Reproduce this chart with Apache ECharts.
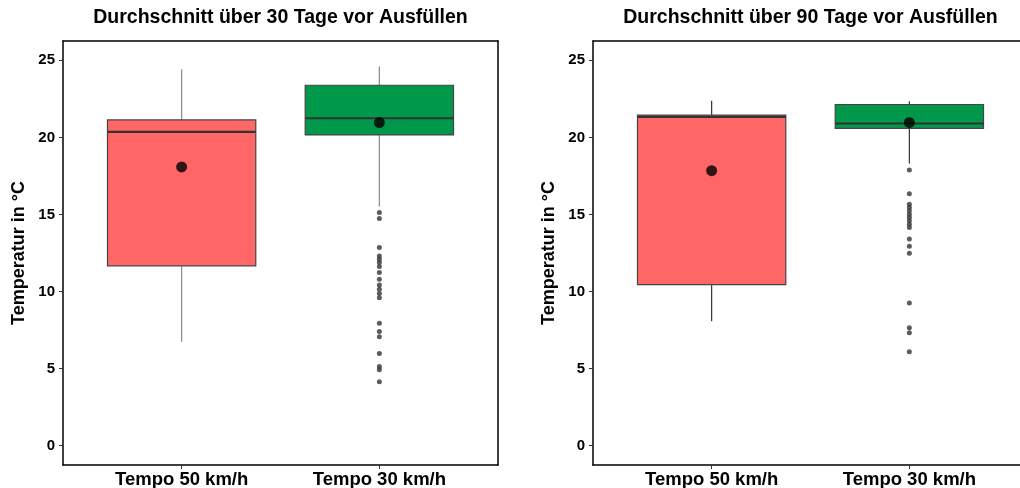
<!DOCTYPE html>
<html>
<head>
<meta charset="utf-8">
<script src="https://cdn.jsdelivr.net/npm/echarts@6/dist/echarts.min.js"></script>
<style>
  html, body { margin: 0; padding: 0; background: #fff; overflow: hidden; width: 1020px; height: 488px; }
  #chart { width: 1060px; height: 488px; }
</style>
</head>
<body>
<div id="chart"></div>
<script>
// Groups on the x axis
const categories = ['Tempo 50 km/h', 'Tempo 30 km/h'];
const yTicks = [0, 5, 10, 15, 20, 25];

// Box statistics per group: [lower whisker, Q1, median, Q3, upper whisker]
const stats30 = [
  [6.74, 11.67, 20.35, 21.13, 24.41],
  [15.51, 20.16, 21.24, 23.38, 24.6]
];
const stats90 = [
  [8.08, 10.45, 21.33, 21.44, 22.37],
  [18.31, 20.58, 20.9, 22.13, 22.35]
];

// Group means
const means30 = [18.08, 20.96];
const means90 = [17.84, 20.97];

// Outliers of the "Tempo 30 km/h" group
const outliers30 = [15.12, 14.73, 12.85, 12.31, 12.1, 11.88, 11.62, 11.23, 10.8, 10.43,
  10.15, 9.87, 9.59, 7.95, 7.41, 7.06, 5.98, 5.14, 4.93, 4.15];
const outliers90 = [17.89, 16.34, 15.66, 15.45, 15.24, 15.02, 14.8, 14.59, 14.37, 14.16,
  13.4, 12.93, 12.48, 9.26, 7.65, 7.32, 6.1];

const titles = ['Durchschnitt über 30 Tage vor Ausfüllen', 'Durchschnitt über 90 Tage vor Ausfüllen'];
const fills = ['#FF6666', '#00994C'];
const BOX_WIDTH = 0.75;
const FONT = 'Liberation Sans, Arial, sans-serif';
const X_RANGE = { min: 0.4, max: 2.6 };
const Y_RANGE = { min: -1.25, max: 26.25 };

function boxRenderer(whiskerColor) {
  return function (params, api) {
    const x = api.value(0);
    const lo = api.coord([x, api.value(1)]);
    const q1 = api.coord([x, api.value(2)]);
    const md = api.coord([x, api.value(3)]);
    const q3 = api.coord([x, api.value(4)]);
    const hi = api.coord([x, api.value(5)]);
    const half = api.size([BOX_WIDTH, 0])[0] / 2;
    const cx = lo[0];
    return {
      type: 'group',
      children: [
        { type: 'line', shape: { x1: cx, y1: hi[1], x2: cx, y2: q3[1] },
          style: { stroke: whiskerColor, lineWidth: 1.2 } },
        { type: 'line', shape: { x1: cx, y1: q1[1], x2: cx, y2: lo[1] },
          style: { stroke: whiskerColor, lineWidth: 1.2 } },
        { type: 'rect', shape: { x: cx - half, y: q3[1], width: half * 2, height: q1[1] - q3[1] },
          style: { fill: fills[params.dataIndex], stroke: '#444', lineWidth: 1.2 } },
        { type: 'line', shape: { x1: cx - half, y1: md[1], x2: cx + half, y2: md[1] },
          style: { stroke: '#333', lineWidth: 2.2 } }
      ]
    };
  };
}

// The second panel runs on past the right edge of the page (the canvas is wider than the page)
const panels = [
  { stats: stats30, means: means30, outliers: outliers30, left: 63, whisker: '#8a8a8a' },
  { stats: stats90, means: means90, outliers: outliers90, left: 593, whisker: '#333' }
];

const frameLine = { show: true, onZero: false, lineStyle: { color: '#000', width: 1.5 } };

// Main axes (bottom / left) with labels, plus bare top / right axes forming the panel frame
const xAxes = [];
const yAxes = [];
panels.forEach((p, i) => {
  xAxes.push({
    type: 'value', gridIndex: i, position: 'bottom', ...X_RANGE,
    axisLine: frameLine,
    axisTick: { show: true, length: 4, lineStyle: { color: '#333' }, customValues: [1, 2] },
    axisLabel: {
      customValues: [1, 2], margin: 5,
      formatter: v => categories[Math.round(v) - 1] || '',
      fontFamily: FONT, fontWeight: 'bold', fontSize: 18.5, color: '#000'
    },
    splitLine: { show: false }
  });
  xAxes.push({
    type: 'value', gridIndex: i, position: 'top', ...X_RANGE,
    axisLine: frameLine, axisTick: { show: false }, axisLabel: { show: false },
    splitLine: { show: false }
  });
  yAxes.push({
    type: 'value', gridIndex: i, position: 'left', ...Y_RANGE,
    name: 'Temperatur in °C', nameLocation: 'middle', nameGap: 35, nameRotate: 90,
    nameTextStyle: { fontFamily: FONT, fontWeight: 'bold', fontSize: 18, color: '#000' },
    axisLine: frameLine,
    axisTick: { show: true, length: 4, lineStyle: { color: '#333' }, customValues: yTicks },
    axisLabel: {
      customValues: yTicks, margin: 8,
      fontFamily: FONT, fontWeight: 'bold', fontSize: 15, color: '#000'
    },
    splitLine: { show: false }
  });
  yAxes.push({
    type: 'value', gridIndex: i, position: 'right', ...Y_RANGE,
    axisLine: frameLine, axisTick: { show: false }, axisLabel: { show: false },
    splitLine: { show: false }
  });
});

const option = {
  backgroundColor: '#fff',
  animation: false,
  title: panels.map((p, i) => ({
    text: titles[i],
    left: p.left + 217.5,
    top: 8,
    padding: 0,
    textAlign: 'center',
    textStyle: { fontFamily: FONT, fontWeight: 'bold', fontSize: 19.5, color: '#000' }
  })),
  grid: panels.map(p => ({
    left: p.left, top: 41, width: 435, height: 424,
    outerBoundsMode: 'none', containLabel: false, show: false
  })),
  xAxis: xAxes,
  yAxis: yAxes,
  series: panels.flatMap((p, i) => [
    {
      type: 'custom', xAxisIndex: 2 * i, yAxisIndex: 2 * i,
      renderItem: boxRenderer(p.whisker),
      encode: { x: 0, y: [1, 2, 3, 4, 5] },
      data: p.stats.map((s, k) => [k + 1].concat(s)),
      z: 2
    },
    {
      type: 'scatter', xAxisIndex: 2 * i, yAxisIndex: 2 * i,
      symbolSize: 5, itemStyle: { color: '#333' },
      data: p.outliers.map(v => [2, v]), z: 3
    },
    {
      type: 'scatter', xAxisIndex: 2 * i, yAxisIndex: 2 * i,
      symbolSize: 11, itemStyle: { color: '#000' },
      data: p.means.map((v, k) => [k + 1, v]), z: 4
    }
  ])
};

const chart = echarts.init(document.getElementById('chart'), null, { renderer: 'canvas' });
chart.setOption(option);
</script>
</body>
</html>
